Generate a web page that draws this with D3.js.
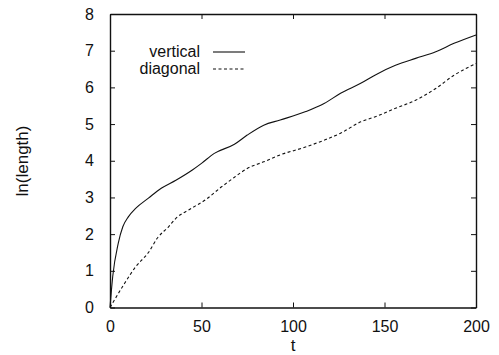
<!DOCTYPE html>
<html lang="en">
<head>
<meta charset="utf-8">
<title>ln(length) vs t</title>
<script src="https://d3js.org/d3.v7.min.js"></script>
<style>
  body{margin:0;background:#fff;font-family:"Liberation Sans",Arial,Helvetica,sans-serif;}
  .tick text{font-size:16px;fill:#111;}
</style>
</head>
<body>
<div id="chart"></div>
<script>
// data
var vertT = [0, 1.5, 4.5, 7, 10, 14, 21, 28, 36, 45, 50, 57, 68, 75, 84, 93, 107, 117, 126, 137, 145, 156, 167, 178, 188, 200]
var vertV = [0, 0.85, 1.75, 2.2, 2.47, 2.7, 2.98, 3.25, 3.47, 3.75, 3.93, 4.2, 4.45, 4.7, 4.97, 5.11, 5.34, 5.56, 5.84, 6.11, 6.34, 6.6, 6.79, 6.97, 7.2, 7.43]
var diagT = [0, 8, 14, 21, 26, 32, 36, 43, 52, 61, 68, 75, 84, 93, 106, 117, 126, 137, 145, 156, 167, 178, 188, 200]
var diagV = [0, 0.66, 1.11, 1.5, 1.9, 2.2, 2.43, 2.66, 2.93, 3.29, 3.55, 3.79, 3.97, 4.16, 4.36, 4.56, 4.75, 5.06, 5.2, 5.43, 5.65, 5.97, 6.33, 6.65]
var xTicks = [0, 50, 100, 150, 200]
var yTicks = [0, 1, 2, 3, 4, 5, 6, 7, 8]
var seriesNames = ["vertical", "diagonal"]

var W = 499, H = 355
var pLeft = 110, pRight = 476, pTop = 14, pBottom = 307.5

var svg = d3.select("#chart").append("svg")
    .attr("width", W).attr("height", H)

var x = d3.scaleLinear().domain([0, 200]).range([pLeft, pRight])
var y = d3.scaleLinear().domain([0, 8]).range([pBottom, pTop])

// axes, ticks pointing inward, mirrored on top/right
svg.append("g").attr("transform", "translate(0," + pBottom + ")")
    .call(d3.axisBottom(x).tickValues(xTicks).tickSizeInner(-5).tickSizeOuter(0).tickPadding(13))
svg.append("g").attr("transform", "translate(" + pLeft + ",0)")
    .call(d3.axisLeft(y).tickValues(yTicks).tickSizeInner(-5).tickSizeOuter(0).tickPadding(16))
svg.append("g").attr("transform", "translate(0," + pTop + ")")
    .call(d3.axisTop(x).tickValues(xTicks).tickSizeInner(-5).tickSizeOuter(0).tickFormat(""))
svg.append("g").attr("transform", "translate(" + pRight + ",0)")
    .call(d3.axisRight(y).tickValues(yTicks).tickSizeInner(-5).tickSizeOuter(0).tickFormat(""))

svg.selectAll(".domain").attr("stroke", "#111").attr("stroke-width", 1.4)
svg.selectAll(".tick line").attr("stroke", "#111").attr("stroke-width", 1)
svg.selectAll(".tick text").attr("font-family", "'Liberation Sans',Arial,sans-serif")

// axis titles
svg.append("text").attr("x", (pLeft + pRight) / 2).attr("y", 351)
    .attr("text-anchor", "middle").attr("font-size", 17).attr("fill", "#111").text("t")
svg.append("text").attr("transform", "translate(28,161) rotate(-90)")
    .attr("text-anchor", "middle").attr("font-size", 17).attr("fill", "#111").text("ln(length)")

var line = d3.line().x(function(d){ return x(d[0]) }).y(function(d){ return y(d[1]) }).curve(d3.curveMonotoneX)

var vertData = vertT.map(function(t, i){ return [t, vertV[i]] })
var diagData = diagT.map(function(t, i){ return [t, diagV[i]] })

svg.append("path").datum(vertData).attr("d", line)
    .attr("fill", "none").attr("stroke", "#111").attr("stroke-width", 1.1)
svg.append("path").datum(diagData).attr("d", line)
    .attr("fill", "none").attr("stroke", "#111").attr("stroke-width", 1.1)
    .attr("stroke-dasharray", "3,2.5")

// legend
var leg = svg.append("g")
seriesNames.forEach(function(name, i){
    var yy = 52 + i * 17
    leg.append("text").attr("x", 200).attr("y", yy + 5)
        .attr("text-anchor", "end").attr("font-size", 16).attr("fill", "#111").text(name)
    leg.append("line").attr("x1", 213).attr("x2", 245).attr("y1", yy).attr("y2", yy)
        .attr("stroke", "#111").attr("stroke-width", 1.1)
        .attr("stroke-dasharray", i == 1 ? "3,2.5" : null)
})
</script>
</body>
</html>
